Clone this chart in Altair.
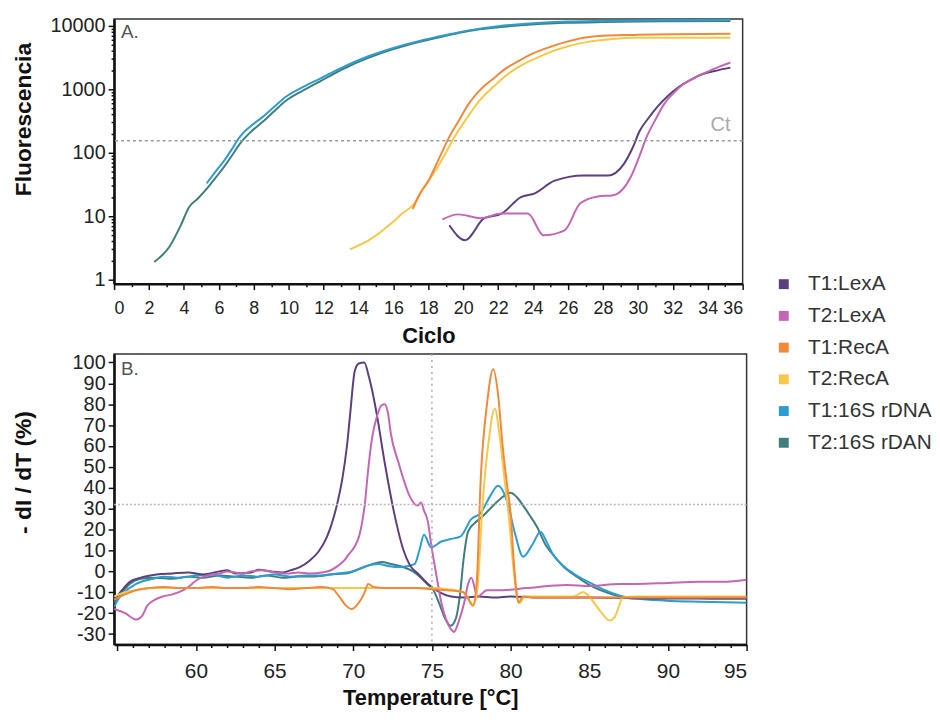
import altair as alt
import pandas as pd

FONT = "Liberation Sans"

# ---------------- series / colours ----------------
series_names = ["T1:LexA", "T2:LexA", "T1:RecA", "T2:RecA", "T1:16S rDNA", "T2:16S rDAN"]
series_colors = ["#5c3f7e", "#c466b4", "#f08a3a", "#f6c84a", "#2b9dd0", "#3f7e7b"]
draw_order = ["T2:16S rDAN", "T1:16S rDNA", "T1:LexA", "T2:LexA", "T2:RecA", "T1:RecA"]

# ---------------- Panel A: amplification ----------------
amp_t1_lexa_cycle = [19.2, 20.1, 21.2, 22.2, 23.3, 24.1, 25.2, 26.9, 28.3, 29.2, 29.7, 30.1, 30.6, 31.1, 31.7, 32.3, 33.0, 33.6, 34.4, 35.3]
amp_t1_lexa_fluor = [7.2, 4.2, 9.3, 11, 20, 23, 36, 44, 44, 67, 120, 220, 350, 525, 780, 1070, 1400, 1700, 1950, 2200]

amp_t2_lexa_cycle = [18.8, 19.7, 21.0, 22.2, 23.7, 24.6, 25.8, 26.7, 27.7, 28.6, 29.6, 30.1, 30.5, 31.0, 31.5, 32.0, 32.6, 33.3, 34.0, 34.7, 35.3]
amp_t2_lexa_fluor = [8.9, 10.7, 9.3, 11, 11, 5.0, 6.0, 16, 20.5, 21.5, 42, 90, 178, 330, 585, 850, 1200, 1550, 1900, 2300, 2650]

amp_t1_reca_cycle = [17.1, 17.5, 18.0, 18.6, 19.2, 19.8, 20.3, 21.0, 21.8, 22.4, 23.1, 24.0, 25.0, 26.0, 26.9, 28.0, 29.8, 32.0, 35.3]
amp_t1_reca_fluor = [13, 22, 36, 80, 178, 340, 585, 1000, 1540, 2100, 2730, 3700, 4700, 5700, 6500, 7000, 7200, 7400, 7500]

amp_t2_reca_cycle = [13.5, 14.6, 15.9, 16.5, 17.2, 17.6, 18.4, 19.0, 19.5, 20.2, 20.9, 21.8, 22.75, 23.7, 24.6, 25.8, 27.1, 28.5, 29.8, 32.0, 35.3]
amp_t2_reca_fluor = [3.0, 4.2, 7.8, 11, 16, 25, 52, 100, 178, 350, 650, 1150, 1900, 2700, 3500, 4600, 5600, 6200, 6500, 6500, 6500]

amp_t1_16s_cycle = [5.3, 5.8, 6.3, 6.8, 7.2, 7.8, 8.5, 9.2, 9.8, 10.8, 11.8, 13.2, 14.6, 16.0, 17.5, 19.0, 20.3, 22.0, 24.0, 26.0, 28.0, 30.0, 32.0, 35.3]
amp_t1_16s_fluor = [33, 50, 75, 120, 178, 260, 365, 540, 750, 1080, 1480, 2300, 3350, 4500, 5800, 7200, 8500, 9900, 11000, 11700, 12000, 12200, 12300, 12400]

amp_t2_16s_cycle = [2.3, 3.2, 3.8, 4.3, 4.8, 5.3, 5.8, 6.3, 6.8, 7.2, 7.8, 8.5, 9.2, 9.8, 10.8, 11.8, 13.2, 14.6, 16.0, 17.5, 19.0, 20.3, 22.0, 24.1, 26.0, 28.0, 30.0, 32.0, 35.3]
amp_t2_16s_fluor = [1.9, 3.4, 7, 14, 19, 27, 40, 60, 95, 138, 210, 305, 460, 650, 950, 1340, 2150, 3160, 4300, 5600, 7000, 8300, 9500, 10600, 11200, 11500, 11700, 11800, 11900]

ct_threshold = 155

amp_x_ticks = list(range(0, 37))            # labelled every 2 cycles
amp_y_major = [1, 10, 100, 1000, 10000]
amp_y_ticks = amp_y_major + [m * 10 ** e for e in range(0, 4) for m in range(2, 10)]

# ---------------- Panel B: melt curves ----------------
melt_t1_lexa_temp = [54.8, 55.3, 55.8, 56.5, 57.5, 58.5, 59.5, 60.5, 61.5, 62.0, 62.5, 63.5, 64.0, 64.8, 65.5, 66.0, 66.6, 67.2, 67.8, 68.3, 68.6, 69.0, 69.3, 69.6, 69.8, 70.1, 70.35, 70.7, 71.0, 71.3, 71.5, 72.0, 72.6, 73.2, 73.6, 74.1, 74.9, 75.5, 76.2, 77.0, 78.0, 79.0, 80.0, 82.0, 85.0, 90.0, 95.0]
melt_t1_lexa_val = [-14, -9, -5, -3, -1.5, -1, -0.5, -1.5, 0, 0.5, -1, -0.5, 0.8, 0, -0.5, 0.5, 2, 5, 9.5, 16, 22, 33, 44, 60, 75, 96, 99.5, 100, 93, 83, 75, 52, 28, 10, 3, -1, -7, -10, -12, -12.5, -12, -12.5, -12, -12.5, -12.5, -13, -13]

melt_t2_lexa_temp = [54.8, 55.5, 56.2, 56.6, 56.9, 57.4, 57.9, 58.5, 59.2, 59.6, 60.0, 60.5, 61.0, 61.5, 62.0, 62.5, 63.0, 63.5, 64.2, 65.0, 65.8, 66.5, 67.3, 68.0, 68.5, 69.0, 69.4, 69.7, 70.1, 70.4, 70.6, 70.75, 70.9, 71.2, 71.5, 71.8, 72.0, 72.2, 72.4, 72.9, 73.2, 73.5, 74.1, 74.3, 74.5, 74.75, 74.95, 75.3, 75.6, 75.9, 76.2, 76.4, 76.7, 77.05, 77.3, 77.5, 77.9, 78.5, 79.5, 81.0, 83.6, 85.0, 86.9, 88.0, 90.0, 92.0, 93.5, 95.0]
melt_t2_lexa_val = [-18, -20, -23, -21, -16.5, -13.5, -12, -11, -9, -7, -4.5, -2.5, -1.5, -1, 0, -0.5, -1, 0, 0.5, -0.5, -1, -0.5, -1, -0.5, 0.3, 2.5, 5, 8, 12, 17.5, 25, 33, 45, 64, 74, 79.5, 80, 76, 65.5, 51.5, 44, 37.5, 31.5, 33, 29, 23.6, 13, -2.5, -15, -23, -27.6, -29, -24, -15, -6, -3, -12, -9, -9, -8, -6.5, -7, -6, -6, -5.5, -5, -5, -4]

melt_t1_reca_temp = [54.8, 55.5, 56.2, 57.0, 58.0, 59.0, 60.0, 61.0, 62.0, 63.0, 64.0, 65.0, 66.0, 67.0, 68.0, 68.7, 69.1, 69.5, 69.9, 70.3, 70.7, 70.95, 71.3, 72.0, 73.0, 74.0, 75.0, 76.0, 77.0, 77.3, 77.6, 77.85, 78.1, 78.5, 78.9, 79.2, 79.5, 79.8, 80.0, 80.2, 80.35, 80.5, 80.8, 81.5, 83.0, 85.0, 88.0, 91.0, 95.0]
melt_t1_reca_val = [-13.5, -11, -9, -8, -7.5, -8, -8, -7.5, -8, -8, -7.5, -8, -8.5, -8, -7.5, -8.5, -12, -16, -18, -15.5, -10.5, -6, -7.5, -8, -8, -8, -8.5, -9, -10, -13, -16.5, -5, 44, 80, 96.7, 85, 59.5, 40, 28, 5, -8, -15, -12, -12.5, -12.5, -12.5, -12.5, -12.5, -12.5]

melt_t2_reca_temp = [54.8, 55.5, 56.5, 57.5, 59.0, 61.0, 63.0, 65.0, 67.0, 69.0, 71.0, 73.0, 75.0, 76.0, 77.0, 77.4, 77.65, 77.9, 78.2, 78.6, 79.0, 79.3, 79.6, 79.9, 80.2, 80.4, 80.6, 80.9, 82.0, 84.0, 84.6, 85.0, 85.4, 85.7, 86.3, 86.6, 86.9, 87.1, 88.0, 90.0, 95.0]
melt_t2_reca_val = [-12, -10, -8.5, -8, -8, -8, -8, -8, -8, -8, -8, -8, -8, -8.5, -10, -14, -16, -8, 30, 62, 78, 65, 45, 25, 0, -12, -15, -12, -12, -12, -10, -12, -16, -19, -23.5, -22, -16.5, -12.5, -12, -12, -12]

melt_t1_16s_temp = [54.8, 55.1, 55.4, 56.2, 57.3, 58.0, 59.0, 60.0, 61.0, 62.0, 63.0, 64.0, 65.0, 66.0, 67.0, 68.0, 69.0, 70.0, 70.8, 71.6, 72.3, 73.06, 73.9, 74.2, 74.5, 74.95, 75.6, 76.2, 76.8, 77.5, 78.1, 78.7, 79.2, 79.8, 80.3, 80.8, 81.4, 81.9, 82.3, 82.7, 83.3, 84.0, 85.2, 86.0, 86.9, 88.0, 89.9, 92.0, 95.0]
melt_t1_16s_val = [-17, -13, -10.4, -6, -3.5, -2.5, -3, -2, -1.5, -3, -2, -2.5, -1.5, -2.5, -2, -2, -1, 0, 2.5, 3.5, 2.5, 2.1, 3.5, 10, 17.5, 11.5, 14.3, 15.5, 16.6, 25, 28, 36, 41, 33, 17.5, 7, 13, 19, 14, 8, 3, -1, -6, -9, -11.5, -13, -14, -14.5, -15]

melt_t2_16s_temp = [54.8, 55.3, 55.8, 56.5, 57.5, 58.5, 59.5, 60.5, 61.5, 62.5, 63.5, 64.5, 65.5, 66.5, 67.5, 68.5, 69.5, 70.5, 71.2, 71.8, 72.4, 73.2, 73.8, 74.3, 74.7, 75.1, 75.5, 75.8, 76.2, 76.5, 76.8, 77.0, 77.3, 77.7, 78.1, 78.7, 79.4, 80.0, 80.4, 80.8, 81.2, 81.7, 82.2, 82.7, 83.4, 84.2, 85.0, 85.7, 86.7, 87.7, 89.0, 91.0, 93.0, 95.0]
melt_t2_16s_val = [-15, -10, -6, -3.5, -3, -3.5, -2.5, -3, -2, -2.5, -3, -2, -3, -2.5, -2.5, -1.5, -1, 1.5, 3.5, 4.5, 3.5, 2, 0, -3, -6, -9, -16, -22, -26, -23, -10, 5, 19, 23, 25.5, 30, 35, 37.6, 35.5, 31.5, 27, 21, 13, 8, 2, -2.5, -6.5, -9, -11.5, -13, -13, -12.5, -13, -13]

melt_threshold = 32
melt_marker_temp = 75

melt_x_ticks = list(range(55, 96))          # labelled every 5 degrees from 60
melt_y_ticks = list(range(-30, 101, 10))

# ---------------- tables ----------------
amp_sets = {
    "T1:LexA": (amp_t1_lexa_cycle, amp_t1_lexa_fluor),
    "T2:LexA": (amp_t2_lexa_cycle, amp_t2_lexa_fluor),
    "T1:RecA": (amp_t1_reca_cycle, amp_t1_reca_fluor),
    "T2:RecA": (amp_t2_reca_cycle, amp_t2_reca_fluor),
    "T1:16S rDNA": (amp_t1_16s_cycle, amp_t1_16s_fluor),
    "T2:16S rDAN": (amp_t2_16s_cycle, amp_t2_16s_fluor),
}
melt_sets = {
    "T1:LexA": (melt_t1_lexa_temp, melt_t1_lexa_val),
    "T2:LexA": (melt_t2_lexa_temp, melt_t2_lexa_val),
    "T1:RecA": (melt_t1_reca_temp, melt_t1_reca_val),
    "T2:RecA": (melt_t2_reca_temp, melt_t2_reca_val),
    "T1:16S rDNA": (melt_t1_16s_temp, melt_t1_16s_val),
    "T2:16S rDAN": (melt_t2_16s_temp, melt_t2_16s_val),
}

def build(sets, xname, yname):
    rows = []
    for rank, s in enumerate(draw_order):
        xs, ys = sets[s]
        assert len(xs) == len(ys), s
        for x, y in zip(xs, ys):
            rows.append({"series": s, xname: x, yname: y, "rank": rank})
    return pd.DataFrame(rows)

amp_df = build(amp_sets, "cycle", "fluor")
melt_df = build(melt_sets, "temp", "value")
one_row = pd.DataFrame({"k": [0]})

color_scale = alt.Scale(domain=series_names, range=series_colors)
shared_legend = alt.Legend(
    title=None, orient="none", legendX=665, legendY=257,
    symbolType="square", symbolSize=25, symbolStrokeWidth=5, symbolOpacity=1,
    labelFontSize=21, labelFont=FONT, labelColor="#333",
    rowPadding=7, labelOffset=14,
)
color_enc = alt.Color("series:N", scale=color_scale, legend=shared_legend)

# ---------------- top panel ----------------
amp_x = alt.Scale(domain=[0, 36], nice=False)
amp_y = alt.Scale(type="log", domain=[0.866, 12860], nice=False)

amp_x_axis = alt.Axis(
    values=amp_x_ticks, title="Ciclo", labelFontSize=18, titleFontSize=22, labelOverlap=False,
    labelExpr="datum.value % 2 === 0 ? datum.label : ''",
    tickSize={"condition": {"test": "datum.value % 2 === 0", "value": 6}, "value": 3},
    labelPadding=10, titlePadding=8)
amp_y_axis = alt.Axis(
    values=amp_y_ticks, format="d", title="Fluorescencia", labelFontSize=20, titleFontSize=23,
    labelOverlap=False,
    labelExpr="indexof([1, 10, 100, 1000, 10000], datum.value) >= 0 ? datum.label : ''",
    tickSize={"condition": {"test": "indexof([1, 10, 100, 1000, 10000], datum.value) >= 0", "value": 6}, "value": 3},
    labelPadding=3, titleX=-79, titleY=101)

amp_lines = alt.Chart(amp_df).mark_line(strokeWidth=2, clip=True, interpolate="monotone").encode(
    x=alt.X("cycle:Q", scale=amp_x, axis=amp_x_axis),
    y=alt.Y("fluor:Q", scale=amp_y, axis=amp_y_axis),
    color=color_enc,
    order=alt.Order("rank:Q"),
)

ct_rule = alt.Chart(one_row).mark_rule(strokeDash=[3, 3], color="#9a9aa4", strokeWidth=1.5).encode(
    y=alt.YDatum(ct_threshold, scale=amp_y, axis=amp_y_axis)
)
ct_text = alt.Chart(one_row).mark_text(text="Ct", align="right", baseline="middle", dy=-16,
                                       fontSize=20, font=FONT, color="#aaaaaa").encode(
    x=alt.XDatum(35.3, scale=amp_x, axis=amp_x_axis),
    y=alt.YDatum(ct_threshold, scale=amp_y, axis=amp_y_axis)
)
label_a = alt.Chart(one_row).mark_text(text="A.", align="left", baseline="middle", fontSize=19,
                                       font=FONT, color="#555").encode(
    x=alt.value(7), y=alt.value(13)
)

top = alt.layer(amp_lines, ct_rule, ct_text, label_a).properties(width=634, height=267)

# ---------------- bottom panel ----------------
melt_x = alt.Scale(domain=[54.8, 95], nice=False)
melt_y = alt.Scale(domain=[-35, 104], nice=False)

melt_x_axis = alt.Axis(
    values=melt_x_ticks, title="Temperature [°C]", labelFontSize=21, titleFontSize=22,
    labelOverlap=False,
    labelExpr="datum.value % 5 === 0 && datum.value >= 60 ? datum.label : ''",
    tickSize={"condition": {"test": "datum.value % 5 === 0", "value": 6}, "value": 3},
    labelPadding=10, titlePadding=6)
melt_y_axis = alt.Axis(
    values=melt_y_ticks, labelExpr="'' + datum.value", title="- dI / dT (%)", labelOverlap=False,
    labelFontSize=20, titleFontSize=23, tickSize=6, labelPadding=3, titleX=-79, titleY=119)

melt_lines = alt.Chart(melt_df).mark_line(strokeWidth=2, clip=True, interpolate="monotone").encode(
    x=alt.X("temp:Q", scale=melt_x, axis=melt_x_axis),
    y=alt.Y("value:Q", scale=melt_y, axis=melt_y_axis),
    color=color_enc,
    order=alt.Order("rank:Q"),
)
melt_hrule = alt.Chart(one_row).mark_rule(strokeDash=[2, 2], color="#b8b8b8", strokeWidth=1.5).encode(
    y=alt.YDatum(melt_threshold, scale=melt_y, axis=melt_y_axis)
)
melt_vrule = alt.Chart(one_row).mark_rule(strokeDash=[2, 4], color="#aaaaaa", strokeWidth=1.5).encode(
    x=alt.XDatum(melt_marker_temp, scale=melt_x, axis=melt_x_axis)
)
label_b = alt.Chart(one_row).mark_text(text="B.", align="left", baseline="middle", fontSize=19,
                                       font=FONT, color="#555").encode(
    x=alt.value(7), y=alt.value(15)
)

bottom = alt.layer(melt_lines, melt_hrule, melt_vrule, label_b).properties(width=638, height=293)

chart = alt.vconcat(top, bottom, spacing=4).resolve_scale(
    x="independent", y="independent"
).properties(
    padding={"left": 4, "top": 4, "right": 0, "bottom": 0}
).configure_view(stroke="#333", strokeWidth=1.5).configure_axis(
    labelFont=FONT, labelColor="#222", titleFont=FONT, titleFontWeight="bold", titleColor="#111",
    domainColor="#111", domainWidth=2.5, tickColor="#111", tickWidth=1.5, grid=False,
    labelOverlap=False,
)

chart.save("out.html", embed_options={"renderer": "svg", "actions": False})
